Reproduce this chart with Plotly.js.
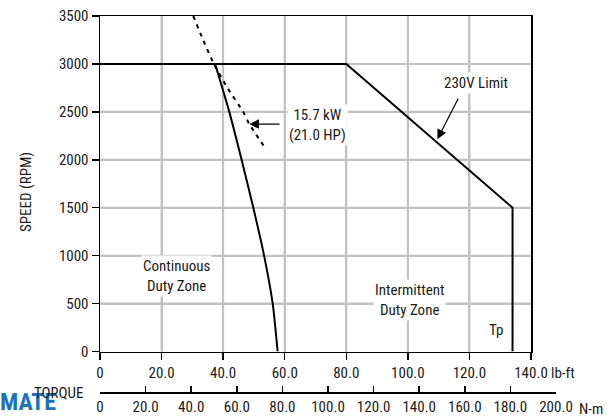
<!DOCTYPE html>
<html>
<head>
<meta charset="utf-8">
<script src="https://cdn.plot.ly/plotly-3.0.1.min.js"></script>
<style>html,body{margin:0;padding:0;background:#fff;}#chart{width:615px;height:417px;}</style>
</head>
<body>
<div id="chart"></div>
<script>
// ---- data ----
const limitTorque = [0, 80, 134.0, 134.0];          // lb-ft
const limitSpeed  = [3000, 3000, 1500, 0];          // RPM
const contTorque  = [37.4, 42.0, 46.0, 49.8, 53.3, 56.1, 57.7];
const contSpeed   = [3000, 2500, 2000, 1500, 1000, 500, 0];
const powerTorque = [30.3, 33.5, 37.0, 41.4, 46.5, 48.5, 53.6];
const powerSpeed  = [3500, 3250, 3000, 2750, 2500, 2373, 2125];
const lbftTicks   = [0, 20, 40, 60, 80, 100, 120, 140];
const lbftLabels  = ['0', '20.0', '40.0', '60.0', '80.0', '100.0', '120.0', '140.0'];
const nmTicks     = [0, 20, 40, 60, 80, 100, 120, 140, 160, 180, 200];
const nmLabels    = ['0', '20.0', '40.0', '60.0', '80.0', '100.0', '120.0', '140.0', '160.0', '180.0', '200.0'];
const speedTicks  = [0, 500, 1000, 1500, 2000, 2500, 3000, 3500];

const FONT = 'Roboto Condensed, Arial Narrow, sans-serif';
const TXT = {family: FONT, size: 15, color: '#1a1a1a'};
const GRID = '#c2c2c2';

const xMin = lbftTicks[0], xMax = lbftTicks[lbftTicks.length - 1];
const yMin = speedTicks[0], yMax = speedTicks[speedTicks.length - 1];
const gridX = [], gridY = [];
lbftTicks.slice(1, -1).forEach(v => { gridX.push(v, v, null); gridY.push(yMin, yMax, null); });
speedTicks.slice(1, -1).forEach(v => { gridX.push(xMin, xMax, null); gridY.push(v, v, null); });

const traces = [
  {x: gridX, y: gridY, type: 'scatter', mode: 'lines', connectgaps: false,
   line: {color: GRID, width: 2}, hoverinfo: 'skip', xaxis: 'x', yaxis: 'y'},
  {x: limitTorque, y: limitSpeed, type: 'scatter', mode: 'lines',
   line: {color: '#000', width: 2}, hoverinfo: 'skip', xaxis: 'x', yaxis: 'y'},
  {x: contTorque, y: contSpeed, type: 'scatter', mode: 'lines',
   line: {color: '#000', width: 2, shape: 'spline', smoothing: 0.6}, hoverinfo: 'skip', xaxis: 'x', yaxis: 'y'},
  {x: powerTorque, y: powerSpeed, type: 'scatter', mode: 'lines',
   line: {color: '#000', width: 2, dash: '4px,5px', shape: 'spline', smoothing: 0.6}, hoverinfo: 'skip', xaxis: 'x', yaxis: 'y'},
  {x: [nmTicks[0], nmTicks[nmTicks.length - 1]], y: [0, 0], type: 'scatter', mode: 'lines',
   line: {color: 'rgba(0,0,0,0)', width: 0}, hoverinfo: 'skip', xaxis: 'x2', yaxis: 'y2'}
];

const W = 456, H = 376, L = 100, T = 16;
const px = v => (v - L) / W;
const py = v => (T + H - v) / H;

const layout = {
  width: 615, height: 417,
  margin: {l: 100, r: 59, t: 16, b: 25, pad: 0},
  paper_bgcolor: '#fff', plot_bgcolor: '#fff',
  showlegend: false,
  font: TXT,
  xaxis: {
    domain: [0, 431/456], range: [xMin, xMax], anchor: 'y',
    tickvals: lbftTicks, ticktext: lbftLabels,
    showgrid: true, gridcolor: GRID, gridwidth: 2,
    showline: true, linecolor: '#000', linewidth: 1.5, mirror: true,
    ticks: 'outside', ticklen: 7, tickcolor: '#000', tickwidth: 1.5,
    zeroline: false, tickfont: TXT
  },
  yaxis: {
    domain: [40.5/376, 1], range: [yMin, yMax], anchor: 'x',
    tickvals: speedTicks,
    showgrid: true, gridcolor: GRID, gridwidth: 2,
    showline: true, linecolor: '#000', linewidth: 1.5, mirror: true,
    ticks: 'outside', ticklen: 7, tickcolor: '#000', tickwidth: 1.5,
    zeroline: false, tickfont: TXT
  },
  xaxis2: {
    domain: [0, 1], range: [0, 200], anchor: 'y2',
    tickvals: nmTicks, ticktext: nmLabels,
    showgrid: false, zeroline: false,
    showline: true, linecolor: '#000', linewidth: 1.5,
    ticks: 'inside', ticklen: 6, tickcolor: '#000', tickwidth: 1.5,
    tickfont: TXT
  },
  yaxis2: {domain: [0, 0.02], range: [0, 1], visible: false, anchor: 'x2'},
  annotations: [
    {xref: 'paper', yref: 'paper', x: px(26), y: py(192), xanchor: 'center', yanchor: 'middle',
     text: 'SPEED (RPM)', textangle: -90, showarrow: false, font: TXT},
    {xref: 'paper', yref: 'paper', x: px(549), y: py(373), xanchor: 'left', yanchor: 'middle',
     text: 'lb-ft', showarrow: false, font: TXT},
    {xref: 'paper', yref: 'paper', x: px(577), y: py(409), xanchor: 'left', yanchor: 'middle',
     text: 'N-m', showarrow: false, font: TXT},
    {xref: 'paper', yref: 'paper', x: px(-2), y: py(402), xanchor: 'left', yanchor: 'middle',
     text: '<b>MATE</b>', showarrow: false, font: {family: FONT, size: 24, color: '#1b73bd'}},
    {xref: 'paper', yref: 'paper', x: px(58), y: py(393), xanchor: 'center', yanchor: 'middle',
     text: 'TORQUE', showarrow: false, font: TXT},
    {xref: 'x', yref: 'y', axref: 'x', ayref: 'y', x: 48.5, y: 2373, ax: 58.8, ay: 2373, text: '',
     showarrow: true, arrowhead: 2, arrowsize: 1.6, arrowwidth: 1.2, arrowcolor: '#000'},
    {xref: 'x', yref: 'y', axref: 'x', ayref: 'y', x: 109.6, y: 2215, ax: 116.6, ay: 2655, text: '',
     showarrow: true, arrowhead: 2, arrowsize: 1.6, arrowwidth: 1.2, arrowcolor: '#000'},
    {xref: 'x', yref: 'y', x: 70.6, y: 2365, xanchor: 'center', yanchor: 'middle',
     text: '15.7 kW<br>(21.0 HP)', showarrow: false, bgcolor: '#fff', font: TXT},
    {xref: 'x', yref: 'y', x: 122.1, y: 2801, xanchor: 'center', yanchor: 'middle',
     text: '230V Limit', showarrow: false, bgcolor: '#fff', font: TXT},
    {xref: 'x', yref: 'y', x: 24.7, y: 787, xanchor: 'center', yanchor: 'middle',
     text: 'Continuous<br>Duty Zone', showarrow: false, bgcolor: '#fff', font: TXT},
    {xref: 'x', yref: 'y', x: 100.4, y: 537, xanchor: 'center', yanchor: 'middle',
     text: 'Intermittent<br>Duty Zone', showarrow: false, bgcolor: '#fff', font: TXT},
    {xref: 'x', yref: 'y', x: 128.6, y: 224, xanchor: 'center', yanchor: 'middle',
     text: 'Tp', showarrow: false, font: TXT}
  ]
};

Plotly.newPlot('chart', traces, layout, {staticPlot: true, displayModeBar: false});
</script>
</body>
</html>
